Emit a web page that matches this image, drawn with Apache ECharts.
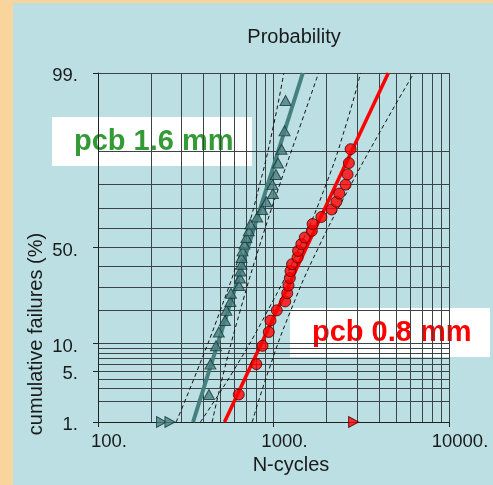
<!DOCTYPE html>
<html>
<head>
<meta charset="utf-8">
<script src="https://cdn.jsdelivr.net/npm/echarts@6/dist/echarts.min.js"></script>
<style>
html,body{margin:0;padding:0;width:493px;height:485px;overflow:hidden;background:#f9d49d}
#chart{position:absolute;left:13px;top:3px;width:480px;height:482px}
</style>
</head>
<body>
<div id="chart"></div>
<script>
// Lognormal probability plot of fatigue life: N-cycles (log) vs cumulative failures (probit scale)

// ---- data ----
const pcb16Cycles = [429, 437, 470, 488, 529, 539, 568, 572, 636, 644, 648, 657, 657, 666, 683, 701, 723, 739, 807, 862, 912, 993, 987, 1033, 1061, 1111, 1156, 1171];
const pcb16Pct    = [2.5, 6.0, 9.5, 13.0, 16.5, 20.1, 23.6, 27.1, 30.6, 34.2, 37.7, 41.2, 44.7, 48.2, 51.8, 55.3, 58.8, 62.3, 65.8, 69.4, 72.9, 76.4, 79.9, 83.5, 87.0, 90.5, 94.0, 97.5];
const pcb16SuspCycles = [230, 257];
const pcb16SuspPct    = [1, 1];
const pcb16FitCycles = [348, 1469];
const pcb16FitPct    = [1, 99];
const pcb16LowCycles  = [279, 367, 497, 661, 835, 1004, 1145];
const pcb16HighCycles = [447, 523, 646, 827, 1086, 1431, 1806];

const pcb08Cycles = [634, 798, 866, 940, 961, 1044, 1166, 1197, 1218, 1239, 1250, 1275, 1371, 1380, 1441, 1507, 1654, 1670, 1874, 2143, 2282, 2371, 2575, 2643, 2689, 2750];
const pcb08Pct    = [2.5, 6.0, 9.5, 13.0, 16.5, 20.1, 23.6, 27.1, 30.6, 34.2, 37.7, 41.2, 44.7, 48.2, 51.8, 55.3, 58.8, 62.3, 65.8, 69.4, 72.9, 76.4, 79.9, 83.5, 87.0, 90.5];
const pcb08SuspCycles = [2860];
const pcb08SuspPct    = [1];
const pcb08FitCycles = [526, 4512];
const pcb08FitPct    = [1, 99];
const pcb08LowCycles  = [383, 591, 927, 1405, 1993, 2598, 3135];
const pcb08HighCycles = [756, 936, 1253, 1803, 2768, 4281, 6316];

const boundPct = [1, 5, 20, 50, 80, 95, 99];

// axis ticks and grid
const xLabelValues = [100, 1000, 10000];
const xGridValues = [100, 200, 300, 400, 500, 600, 700, 800, 900, 1000, 2000, 3000, 4000, 5000, 6000, 7000, 8000, 9000, 10000];
const yLabelPct = [1, 5, 10, 50, 99];
const yGridPct = [1, 2, 3, 4, 5, 6, 7, 8, 9, 10, 20, 30, 40, 50, 60, 70, 80, 90, 99];

// inverse standard normal CDF (probability paper scale)
function probit(p) {
  const a = [-3.969683028665376e+01, 2.209460984245205e+02, -2.759285104469687e+02, 1.383577518672690e+02, -3.066479806614716e+01, 2.506628277459239e+00];
  const b = [-5.447609879822406e+01, 1.615858368580409e+02, -1.556989798598866e+02, 6.680131188771972e+01, -1.328068155288572e+01];
  const c = [-7.784894002430293e-03, -3.223964580411365e-01, -2.400758277161838e+00, -2.549732539343734e+00, 4.374664141464968e+00, 2.938163982698783e+00];
  const d = [7.784695709041462e-03, 3.224671290700398e-01, 2.445134137142996e+00, 3.754408661907416e+00];
  const pl = 0.02425, ph = 1 - pl;
  let q, r;
  if (p < pl) {
    q = Math.sqrt(-2 * Math.log(p));
    return (((((c[0]*q+c[1])*q+c[2])*q+c[3])*q+c[4])*q+c[5]) / ((((d[0]*q+d[1])*q+d[2])*q+d[3])*q+1);
  }
  if (p <= ph) {
    q = p - 0.5; r = q * q;
    return (((((a[0]*r+a[1])*r+a[2])*r+a[3])*r+a[4])*r+a[5])*q / (((((b[0]*r+b[1])*r+b[2])*r+b[3])*r+b[4])*r+1);
  }
  q = Math.sqrt(-2 * Math.log(1 - p));
  return -(((((c[0]*q+c[1])*q+c[2])*q+c[3])*q+c[4])*q+c[5]) / ((((d[0]*q+d[1])*q+d[2])*q+d[3])*q+1);
}
const pz = pct => probit(pct / 100);
const pairs = (xs, ps) => xs.map((x, i) => [x, pz(ps[i])]);

const yMin = pz(1), yMax = pz(99);
const FONT = '"Liberation Sans", Arial, sans-serif';
const TEAL = '#468080';
const GRID = '#3b4345';

const chart = echarts.init(document.getElementById('chart'), null, {renderer: 'canvas'});

chart.setOption({
  backgroundColor: '#bbdfe3',
  animation: false,
  grid: {left: 85, right: 44, top: 70, bottom: 63},
  xAxis: [
    {
      type: 'log', logBase: 10, min: 100, max: 10000,
      axisLine: {show: false},
      axisTick: {show: false, customValues: xGridValues},
      axisLabel: {show: false},
      splitLine: {show: true, lineStyle: {color: GRID, width: 1}},
      minorSplitLine: {show: false}
    },
    {
      type: 'log', logBase: 10, min: 100, max: 10000, position: 'bottom',
      axisLine: {show: true, onZero: false, lineStyle: {color: '#222', width: 1}},
      axisTick: {show: true, length: 5, inside: false, customValues: xLabelValues, lineStyle: {color: '#222'}},
      axisLabel: {
        show: true, customValues: xLabelValues, margin: 10,
        fontFamily: FONT, fontSize: 18.5, color: '#1a1a1a',
        padding: [0, 0, 0, 22],
        formatter: v => v + '.'
      },
      splitLine: {show: false}
    }
  ],
  yAxis: [
    {
      type: 'value', min: yMin, max: yMax,
      axisLine: {show: false},
      axisTick: {show: false, customValues: yGridPct.map(pz)},
      axisLabel: {show: false},
      splitLine: {show: true, lineStyle: {color: GRID, width: 1}}
    },
    {
      type: 'value', min: yMin, max: yMax, position: 'left',
      axisLine: {show: true, onZero: false, lineStyle: {color: '#222', width: 1}},
      axisTick: {show: true, length: 5, customValues: yLabelPct.map(pz), lineStyle: {color: '#222'}},
      axisLabel: {
        show: true, customValues: yLabelPct.map(pz), margin: 20,
        fontFamily: FONT, fontSize: 18.5, color: '#1a1a1a',
        verticalAlign: 'top', lineHeight: 6,
        formatter: v => {
          let best = 0;
          yLabelPct.forEach((p, i) => { if (Math.abs(pz(p) - v) < Math.abs(pz(yLabelPct[best]) - v)) best = i; });
          return yLabelPct[best] + '.';
        }
      },
      splitLine: {show: false}
    }
  ],
  graphic: [
    {type: 'text', x: 281, y: 34.8, style: {text: 'Probability', fontFamily: FONT, fontSize: 20, fill: '#1a1a1a', align: 'center', verticalAlign: 'middle'}},
    {type: 'text', x: 278, y: 462, style: {text: 'N-cycles', fontFamily: FONT, fontSize: 20, fill: '#1a1a1a', align: 'center', verticalAlign: 'middle'}},
    {type: 'text', x: 23, y: 331, rotation: Math.PI / 2, style: {text: 'cumulative failures (%)', fontFamily: FONT, fontSize: 20, fill: '#1a1a1a', align: 'center', verticalAlign: 'middle'}},
    {type: 'group', z: 100, children: [
      {type: 'rect', shape: {x: 39, y: 114, width: 200, height: 49}, style: {fill: '#ffffff'}},
      {type: 'text', x: 61, y: 138.5, style: {text: 'pcb 1.6 mm', fontFamily: FONT, fontWeight: 'bold', fontSize: 29, fill: '#349a35', align: 'left', verticalAlign: 'middle'}}
    ]},
    {type: 'group', z: 100, children: [
      {type: 'rect', shape: {x: 277, y: 305, width: 200, height: 49}, style: {fill: '#ffffff'}},
      {type: 'text', x: 299, y: 329.5, style: {text: 'pcb 0.8 mm', fontFamily: FONT, fontWeight: 'bold', fontSize: 29, fill: '#ff0000', align: 'left', verticalAlign: 'middle'}}
    ]}
  ],
  series: [
    // confidence bounds
    {type: 'line', name: 'pcb 1.6 lower', data: pairs(pcb16LowCycles, boundPct), smooth: true, symbol: 'none', z: 2,
      lineStyle: {color: '#111', width: 1, type: [4, 3]}},
    {type: 'line', name: 'pcb 1.6 upper', data: pairs(pcb16HighCycles, boundPct), smooth: true, symbol: 'none', z: 2,
      lineStyle: {color: '#111', width: 1, type: [4, 3]}},
    {type: 'line', name: 'pcb 0.8 lower', data: pairs(pcb08LowCycles, boundPct), smooth: true, symbol: 'none', z: 2,
      lineStyle: {color: '#111', width: 1, type: [4, 3]}},
    {type: 'line', name: 'pcb 0.8 upper', data: pairs(pcb08HighCycles, boundPct), smooth: true, symbol: 'none', z: 2,
      lineStyle: {color: '#111', width: 1, type: [4, 3]}},
    // fitted lines
    {type: 'line', name: 'pcb 1.6 fit', data: pairs(pcb16FitCycles, pcb16FitPct), symbol: 'none', z: 3,
      lineStyle: {color: TEAL, width: 4}},
    {type: 'line', name: 'pcb 0.8 fit', data: pairs(pcb08FitCycles, pcb08FitPct), symbol: 'none', z: 3,
      lineStyle: {color: '#ff0000', width: 3.5}},
    // failures
    {type: 'scatter', name: 'pcb 1.6 mm', data: pairs(pcb16Cycles, pcb16Pct), symbol: 'triangle', symbolSize: [11, 10], z: 4,
      itemStyle: {color: TEAL, borderColor: '#1c3434', borderWidth: 1}},
    {type: 'scatter', name: 'pcb 0.8 mm', data: pairs(pcb08Cycles, pcb08Pct), symbol: 'circle', symbolSize: 11, z: 4,
      itemStyle: {color: '#ff0000', borderColor: '#4a0000', borderWidth: 1}},
    // suspended units
    {type: 'scatter', name: 'pcb 1.6 suspended', data: pairs(pcb16SuspCycles, pcb16SuspPct), symbol: 'triangle', symbolRotate: -90, symbolSize: [11, 10], z: 4, clip: false,
      itemStyle: {color: TEAL, borderColor: '#1c3434', borderWidth: 1}},
    {type: 'scatter', name: 'pcb 0.8 suspended', data: pairs(pcb08SuspCycles, pcb08SuspPct), symbol: 'triangle', symbolRotate: -90, symbolSize: [11, 10], z: 4, clip: false,
      itemStyle: {color: '#ff0000', borderColor: '#4a0000', borderWidth: 1}}
  ]
});
</script>
</body>
</html>
